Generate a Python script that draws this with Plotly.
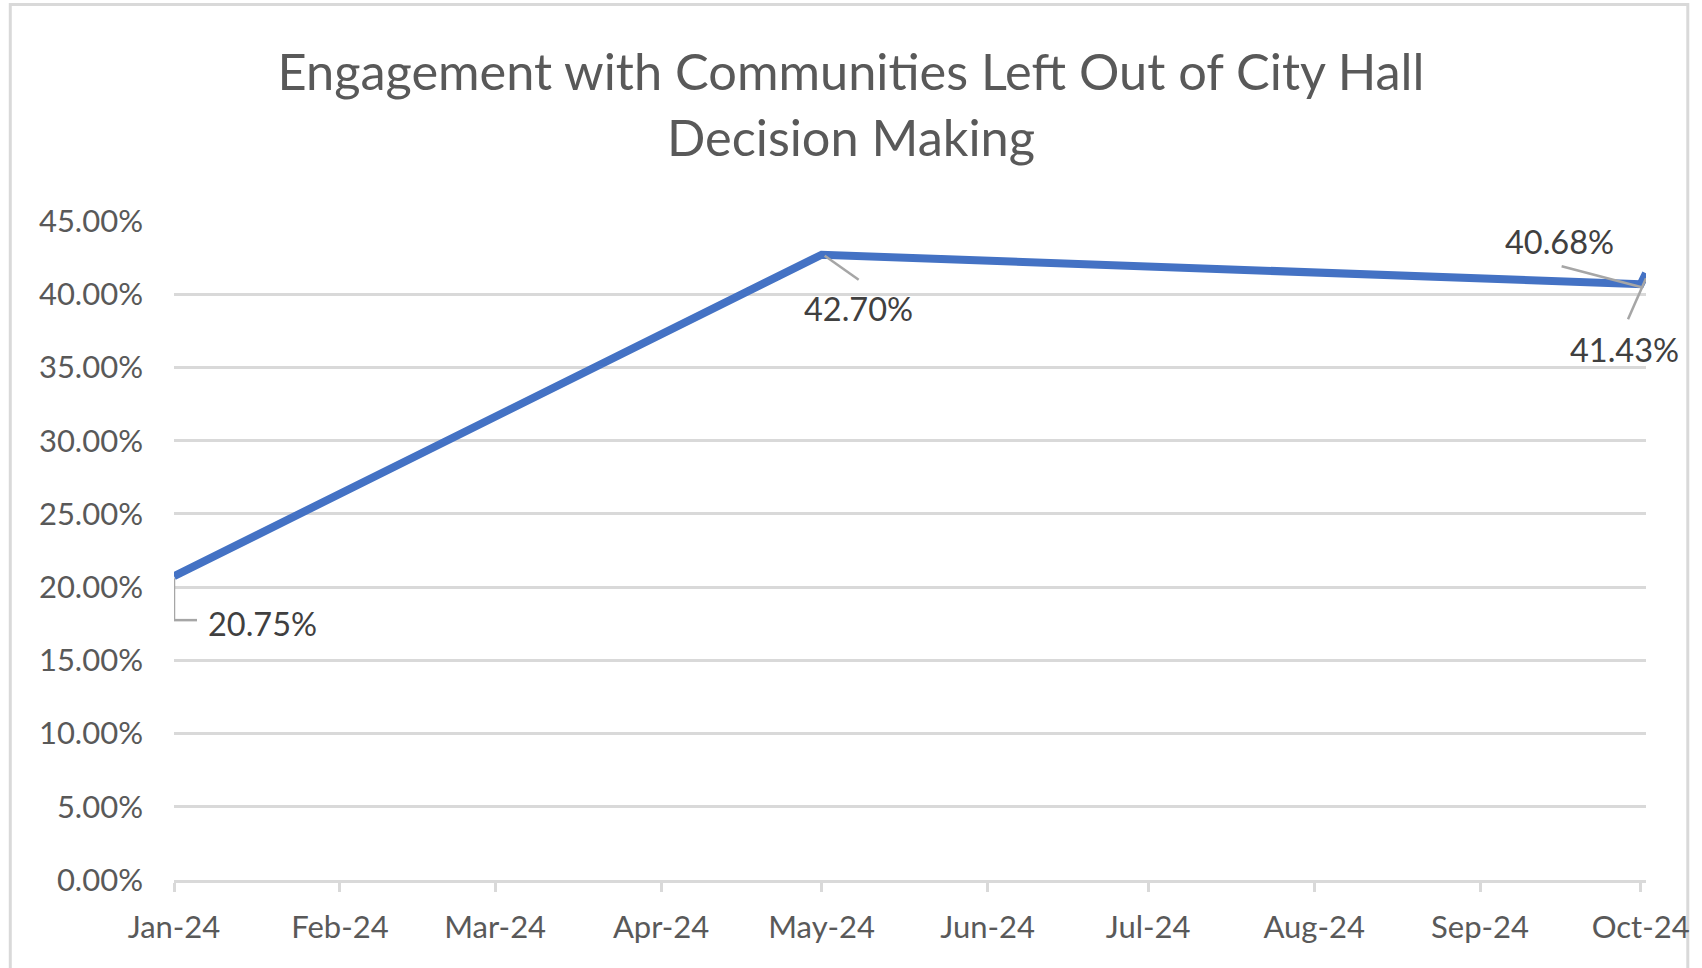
import plotly.graph_objects as go

# ---- data ----
dates = ["2024-01-01", "2024-05-01", "2024-10-01", "2024-10-02"]
values = [0.2075, 0.4270, 0.4068, 0.4143]
labels = ["20.75%", "42.70%", "40.68%", "41.43%"]

tick_dates = ["2024-01-01", "2024-02-01", "2024-03-01", "2024-04-01", "2024-05-01",
              "2024-06-01", "2024-07-01", "2024-08-01", "2024-09-01", "2024-10-01"]
tick_text = ["Jan-24", "Feb-24", "Mar-24", "Apr-24", "May-24",
             "Jun-24", "Jul-24", "Aug-24", "Sep-24", "Oct-24"]
y_ticks = [0, 0.05, 0.10, 0.15, 0.20, 0.25, 0.30, 0.35, 0.40, 0.45]

title = "Engagement with Communities Left Out of City Hall<br>Decision Making"

# ---- layout / style ----
W, H = 1702, 968
ML, MR, MT, MB = 174, 49, 221, 88
FONT = "Lato"
GRID = "#D9D9D9"
TXT = "#595959"
LBL = "#404040"
LEADER = "#A6A6A6"
BLUE = "#4472C4"

fig = go.Figure()
fig.add_trace(go.Scatter(
    x=dates, y=values, mode="lines",
    line=dict(color=BLUE, width=8),
    cliponaxis=False, showlegend=False, hoverinfo="skip",
))

# label offsets (pixels) relative to each point: (xshift, yshift)
label_offsets = [(88, -47), (37, -54), (-81, 43), (-22, -76)]
for d, v, t, (dx, dy) in zip(dates, values, labels, label_offsets):
    fig.add_annotation(x=d, y=v, xref="x", yref="y", text=t, showarrow=False,
                       xshift=dx, yshift=dy, xanchor="center", yanchor="middle",
                       font=dict(family=FONT, size=32.5, color=LBL))

# leader lines (pixel offsets from anchor point)
leaders = [
    (0, [((0, -2), (0, -44)), ((0, -44), (23, -44))]),
    (1, [((3, -1), (37, -25))]),
    (2, [((1, -3), (-79, 18))]),
    (3, [((0, -5), (-18, -46))]),
]
for idx, segs in leaders:
    for (x0, y0), (x1, y1) in segs:
        fig.add_shape(type="line", xref="x", yref="y",
                      xsizemode="pixel", ysizemode="pixel",
                      xanchor=dates[idx], yanchor=values[idx],
                      x0=x0, y0=y0, x1=x1, y1=y1,
                      line=dict(color=LEADER, width=2.5), layer="above")

# chart border
pw, ph = W - ML - MR, H - MT - MB
def px2paper_x(px):
    return (px - ML) / pw
def px2paper_y(py):
    return (H - MB - py) / ph
fig.add_shape(type="rect", xref="paper", yref="paper",
              x0=px2paper_x(9.5), x1=px2paper_x(1695), y0=px2paper_y(990), y1=px2paper_y(4.5),
              line=dict(color=GRID, width=3), fillcolor="rgba(0,0,0,0)", layer="below")

fig.update_layout(
    width=W, height=H,
    margin=dict(l=ML, r=MR, t=MT, b=MB),
    paper_bgcolor="white", plot_bgcolor="white",
    title=dict(text=title, x=0.5, xref="container", xanchor="center",
               y=1 - 90 / H, yref="container", yanchor="middle",
               font=dict(family=FONT, size=50.5, color=TXT)),
    font=dict(family=FONT, color=TXT),
)
fig.update_xaxes(
    type="date", range=["2024-01-01", "2024-10-02"],
    tickvals=tick_dates, ticktext=tick_text,
    showgrid=False, zeroline=False,
    showline=True, linecolor=GRID, linewidth=3,
    ticks="outside", ticklen=9, tickwidth=2.5, tickcolor=GRID,
    ticklabelstandoff=9,
    tickfont=dict(family=FONT, size=31, color=TXT),
)
fig.update_yaxes(
    range=[0, 0.45], tickvals=y_ticks, tickformat=".2%",
    showgrid=True, gridcolor=GRID, gridwidth=2.5,
    zeroline=False, showline=False, ticks="",
    ticklabelstandoff=30,
    tickfont=dict(family=FONT, size=31, color=TXT),
)

fig.write_html("out.html")
